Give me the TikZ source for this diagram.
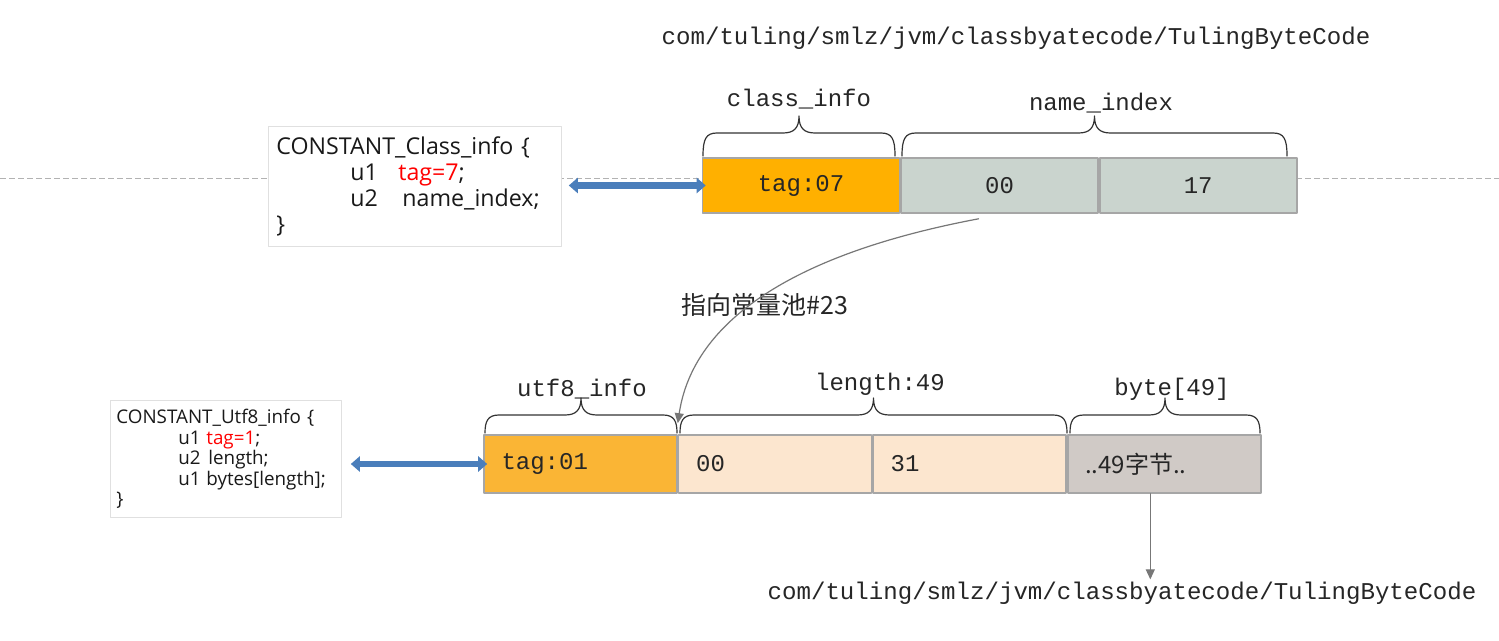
\documentclass[tikz,border=0pt]{standalone}
\usepackage{fontspec}
\setmainfont{Open Sans}
\setmonofont{Liberation Mono}
\newfontfamily\cjk{Noto Sans CJK SC}
\usetikzlibrary{arrows.meta,calc,positioning}
\definecolor{TagOrange}{HTML}{FFB000}
\definecolor{TagLight}{HTML}{FAB535}
\definecolor{IdxGray}{HTML}{CAD4CE}
\definecolor{Peach}{HTML}{FCE6CF}
\definecolor{ByteGray}{HTML}{D0CAC6}
\definecolor{CellEdge}{HTML}{A6A6A6}
\definecolor{ArrowBlue}{HTML}{4A7EBB}
\definecolor{PtrGray}{HTML}{777777}
\tikzset{
  cell/.style={draw=CellEdge,line width=0.8pt,minimum width=98.5pt,minimum height=27.5pt,
    inner sep=0pt,text=black!85,font=\ttfamily\fontsize{12}{12}\selectfont},
  lowcell/.style={cell,minimum width=96.5pt,minimum height=29pt,inner xsep=8.5pt,
    text width=79pt,align=left},
  codebox/.style={draw=black!12,fill=white,anchor=north west,align=left,text=black!90},
  lbl/.style={font=\ttfamily\fontsize{12}{12}\selectfont,text=black!85},
  url/.style={font=\ttfamily\fontsize{12.05}{13}\selectfont,text=black!85,inner sep=1pt},
  dblarrow/.style={{Triangle[length=4.5pt,width=7.5pt]}-{Triangle[length=4.5pt,width=7.5pt]},
    draw=ArrowBlue,line width=3.2pt,line cap=butt},
  ptr/.style={-{Triangle[length=5pt,width=4.5pt]},draw=PtrGray,line width=0.6pt},
  bracepen/.style={draw=black!80,line width=0.6pt},
  guide/.style={draw=black!30,line width=0.4pt,line cap=butt,dash pattern=on 3pt off 1.5pt},
}
% brace: left x, right x, bottom y, rise to the flat part
\newcommand{\drawbrace}[4]{%
  \draw[bracepen]
    ({#1},{#3}) .. controls ({#1},{#3-#4+6}) and ({#1+3},{#3-#4}) .. ({#1+14},{#3-#4})
    -- ({(#1+#2)/2-16},{#3-#4})
    .. controls ({(#1+#2)/2-5},{#3-#4}) and ({(#1+#2)/2},{#3-#4-5}) .. ({(#1+#2)/2},{#3-#4-17})
    .. controls ({(#1+#2)/2},{#3-#4-5}) and ({(#1+#2)/2+5},{#3-#4}) .. ({(#1+#2)/2+16},{#3-#4})
    -- ({#2-14},{#3-#4})
    .. controls ({#2-3},{#3-#4}) and ({#2},{#3-#4+6}) .. ({#2},{#3});
}

\begin{document}
\begin{tikzpicture}[x=0.5pt,y=-0.5pt,line cap=round,line join=round]
  \useasboundingbox (0,0) rectangle (1499,641);
  \fill[white] (0,0) rectangle (1499,641);
  \draw[guide] (0,178) -- (1499,178);

  % class_info entry
  \node[url] (pathA) at (1016,38) {com/tuling/smlz/jvm/classbyatecode/TulingByteCode};
  \node[codebox,minimum width=146.5pt,minimum height=60pt,inner xsep=4pt,text width=138.5pt,
        font=\fontsize{11.6}{13}\selectfont] (clsdef) at (268,126)
    {CONSTANT\_Class\_info \{\\
     \hspace*{37pt}\makebox[24pt][l]{u1}\textcolor{red}{tag=7};\\
     \hspace*{37pt}\makebox[26pt][l]{u2}name\_index;\\
     \}};
  \node[cell,fill=TagOrange] (tag07) at (801,185.5) {tag:07};
  \node[cell,fill=IdxGray,right=0pt of tag07] (idx00) {00};
  \node[cell,fill=IdxGray,right=0pt of idx00] (idx17) {17};
  \drawbrace{703}{895}{156}{23}
  \drawbrace{902}{1287}{156}{23}
  \node[lbl] (clsinfo) at (799,99) {class\_info};
  \node[lbl] (nameidx) at (1101,103) {name\_index};
  \draw[dblarrow,shorten <=3.5pt,shorten >=-2pt] (clsdef.east |- tag07.west) -- (tag07.west);

  % utf8_info entry
  \node[codebox,minimum width=115.5pt,minimum height=58.5pt,inner xsep=3pt,text width=109.5pt,
        font=\fontsize{9.4}{10.25}\selectfont] (utfdef) at (110,400)
    {CONSTANT\_Utf8\_info \{\\
     \hspace*{31pt}\makebox[14pt][l]{u1}\textcolor{red}{tag=1};\\
     \hspace*{31pt}\makebox[15pt][l]{u2}length;\\
     \hspace*{31pt}\makebox[14pt][l]{u1}bytes[length];\\
     \}};
  \node[lowcell,fill=TagLight] (tag01) at (580.5,464) {tag:01};
  \node[lowcell,fill=Peach,right=0pt of tag01] (len00) {00};
  \node[lowcell,fill=Peach,right=0pt of len00] (len31) {31};
  \node[lowcell,fill=ByteGray,right=0pt of len31] (bytes) {\cjk ..49字节..};
  \drawbrace{485}{677}{433}{18}
  \drawbrace{680}{1067}{433}{18}
  \drawbrace{1070}{1260}{433}{18}
  \node[lbl] (utfinfo) at (582,389) {utf8\_info};
  \node[lbl] (lenlbl) at (880,384) {length:49};
  \node[lbl] (bytelbl) at (1172,389) {byte[49]};
  \draw[dblarrow,shorten <=4.5pt,shorten >=-2pt] (utfdef.east |- tag01.west) -- (tag01.west);

  % pointers
  \node[font=\cjk\fontsize{12.5}{13}\selectfont,text=black!85] (poolref) at (765,305) {指向常量池\#23};
  \draw[ptr] ([xshift=-10.5pt,yshift=-2.5pt]idx00.south)
    .. controls (760,260) and (690,340) .. ([yshift=5.5pt]len00.north west);
  \node[url] (pathB) at (1122,593) {com/tuling/smlz/jvm/classbyatecode/TulingByteCode};
  \draw[ptr] ([xshift=-7pt]bytes.south) -- ([xshift=-7pt]bytes.south |- pathB.north);
\end{tikzpicture}
\end{document}
